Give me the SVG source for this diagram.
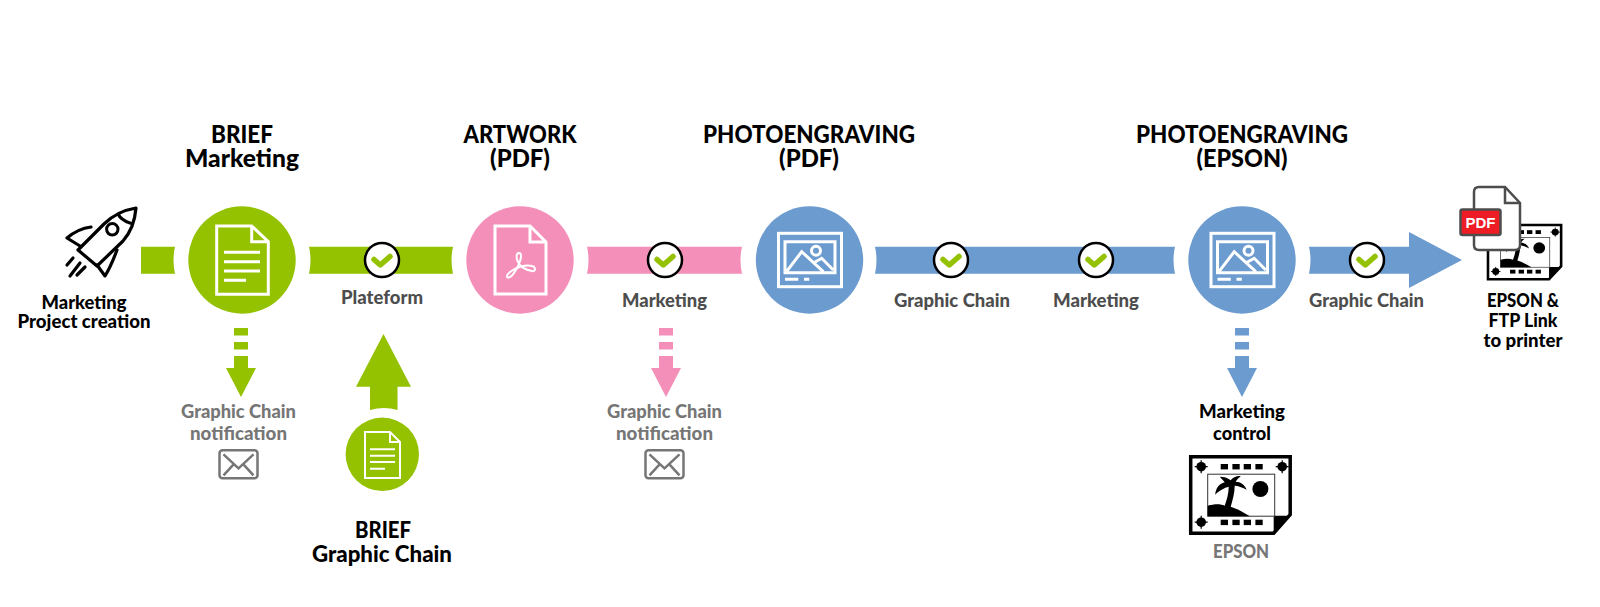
<svg xmlns="http://www.w3.org/2000/svg" width="1600" height="607" viewBox="0 0 1600 607">
<style>
text{font-family:"Lato","Open Sans","Liberation Sans",sans-serif;font-weight:900;text-anchor:middle}
.t{font-size:24px;fill:#000}
.l{font-size:18px;fill:#000}
.d{font-size:18px;fill:#4d4d4d}
.g{font-size:18px;fill:#767676}
.w{fill:none;stroke:#fff;stroke-width:3}
.gr{fill:#94c100}.pk{fill:#f48fb9}.bl{fill:#6b9bcf}
.r{fill:none;stroke:#000;stroke-width:3.200;stroke-linejoin:round;stroke-linecap:round}
</style>
<defs>
<g id="check"><circle r="17" fill="#fff" stroke="#000" stroke-width="2.500"/><path d="M-8 -0.500L-1.700 5L8 -3.500" fill="none" stroke="#94c100" stroke-width="5.500" stroke-linecap="round" stroke-linejoin="round"/></g>
<g id="doc"><path class="w" d="M-25.300-34H9.700L26.300-18.300V34.300H-25.300ZM9.700-34V-18.300H26.300"/><path class="w" d="M-18-7.700H18M-18 1.700H18M-18 11H18M-18 20.300H4"/></g>
<g id="pic"><rect x="-31" y="-26.700" width="63" height="53.400" class="w"/><path class="w" d="M-24.500-18.300H25.500V12.700H-24.500ZM-23 11.700L-7.800-8.300L13.800 11.700M3.800 3L12.200-1.700L23.800 10"/><circle cx="6.500" cy="-9.300" r="4.500" class="w"/><path class="w" d="M-24.500 19.300H-11.200M-5.500 19.300H-0.200"/></g>
<g id="env"><rect x="-19" y="-14" width="38" height="28" rx="3" fill="#fff" stroke="#767676" stroke-width="2.500"/><path d="M-15-10L0 4L15-10M-15 11L-4-1M15 11L4-1" fill="none" stroke="#767676" stroke-width="2.500"/></g>
<g id="downarrow"><rect x="-7" y="328" width="14" height="7.500"/><rect x="-7" y="342" width="14" height="7.500"/><path d="M-7 356H7V368H15L0 397L-15 368H-7Z"/></g>
<g id="epson"><path d="M0 0H99.500V58L83 76.500H0Z" fill="#fff" stroke="#000" stroke-width="3.500"/><path d="M83 76.500V59H99.500Z" fill="#000"/><rect x="17" y="17.500" width="67" height="42" fill="#fff" stroke="#333" stroke-width="1"/><circle cx="69.700" cy="32.300" r="8"/><path d="M17 59.500V49C24 47 30 47 34 49C36 43 38 37 38 30C34 31 28 34 24.500 38C25 32 28 27 34 25.500C32 23 30 21 29 20C33 20 37 21 40 23.500C42 21 46 19 50 19.500C48 21 46 23 45 25C50 25 54 28 56 33C52 31 47 29 44 29C44 36 42 43 40 50C46 52 52 55 59 59.500Z"/><g id="marks"><rect x="30" y="7.300" width="7.300" height="5.400"/><rect x="41.700" y="7.300" width="7.300" height="5.400"/><rect x="53" y="7.300" width="7.300" height="5.400"/><rect x="64.700" y="7.300" width="7.300" height="5.400"/></g><use href="#marks" y="55.700"/><circle cx="10.500" cy="10" r="4.800"/><circle cx="91.500" cy="10" r="4.800"/><circle cx="10.500" cy="65.500" r="4.800"/><path d="M10.500 3.500V16.500M4 10H17M91.500 3.500V16.500M85 10H98M10.500 59V72M4 65.500H17" stroke="#000" stroke-width="1.200"/></g>
</defs>

<g id="connectors">
<path class="gr" d="M141 246.700H175Q172 260 175 273.700H141Z"/>
<path class="gr" d="M309 246.700H453Q450 260 453 273.700H309Q312 260 309 246.700Z"/>
<path class="pk" d="M587 246.700H742Q739 260 742 273.700H587Q590 260 587 246.700Z"/>
<path class="bl" d="M875 246.700H1175Q1172 260 1175 273.700H875Q878 260 875 246.700Z"/>
<path class="bl" d="M1309 246.700H1409V232L1462 260L1409 288V273.700H1309Q1312 260 1309 246.700Z"/>
<use href="#check" x="382" y="260"/>
<use href="#check" x="665" y="260"/>
<use href="#check" x="951" y="260"/>
<use href="#check" x="1096" y="260"/>
<use href="#check" x="1367" y="260"/>
<use href="#downarrow" class="gr" x="241"/>
<use href="#downarrow" class="pk" x="666"/>
<use href="#downarrow" class="bl" x="1242"/>
<path class="gr" d="M383.500 334L411 386.700H397.500V410Q384 406 370 410V386.700H356Z"/>
</g>

<g id="node-rocket">
<path class="r" d="M136 208C124 210 112 216 104 224L78 250L97 266L123 241C131 232 135 220 136 208ZM118 214C120 218 124 221 130 223"/>
<path class="r" d="M91 227C83 228 74 232 67 238L80 246M117 250C114 258 110 268 105 276L97 265"/>
<circle cx="112.300" cy="229.300" r="5.700" fill="none" stroke="#000" stroke-width="3"/>
<path class="r" d="M67 265L73 258M70 276L80 263M77 275L85 267"/>
<text class="l" x="84" y="309" textLength="85" lengthAdjust="spacingAndGlyphs">Marketing</text>
<text class="l" x="84" y="328" textLength="133" lengthAdjust="spacingAndGlyphs">Project creation</text>
</g>
<g id="node-brief-marketing">
<text class="t" x="242" y="143" textLength="62" lengthAdjust="spacingAndGlyphs">BRIEF</text>
<text class="t" x="242" y="167" textLength="114" lengthAdjust="spacingAndGlyphs">Marketing</text>
<circle class="gr" cx="242" cy="260" r="53.700"/>
<use href="#doc" x="242" y="260"/>
</g>
<g id="node-artwork">
<text class="t" x="520" y="143" textLength="113" lengthAdjust="spacingAndGlyphs">ARTWORK</text>
<text class="t" x="520" y="167" textLength="60" lengthAdjust="spacingAndGlyphs">(PDF)</text>
<circle class="pk" cx="520" cy="260" r="53.700"/>
<path class="w" d="M495 226H530L546 242V294H495ZM530 226V242H546"/>
<path class="w" style="stroke-width:2" d="M519 253C516 253 516 258 518 262C521 268 526 270 532 271C536 272 536 267 532 266C525 264 515 268 510 272C505 276 507 279 510 277C514 275 521 262 521 256C521 254 520 253 519 253Z"/>
</g>
<g id="node-photoengraving-pdf">
<text class="t" x="809" y="143" textLength="212" lengthAdjust="spacingAndGlyphs">PHOTOENGRAVING</text>
<text class="t" x="809" y="167" textLength="60" lengthAdjust="spacingAndGlyphs">(PDF)</text>
<circle class="bl" cx="809.500" cy="260" r="53.700"/>
<use href="#pic" x="809.500" y="260"/>
</g>
<g id="node-photoengraving-epson">
<text class="t" x="1242" y="143" textLength="212" lengthAdjust="spacingAndGlyphs">PHOTOENGRAVING</text>
<text class="t" x="1242" y="167" textLength="91" lengthAdjust="spacingAndGlyphs">(EPSON)</text>
<circle class="bl" cx="1242" cy="260" r="53.700"/>
<use href="#pic" x="1242" y="260"/>
</g>
<g id="node-brief-graphic">
<circle class="gr" cx="382.300" cy="454.300" r="36.700"/>
<path class="w" style="stroke-width:2" d="M365 432H390L400 442V478H365ZM390 432V442H400"/>
<path class="w" style="stroke-width:2" d="M370 449.300H395M370 455.700H395M370 462H395M370 468.700H385"/>
<text class="t" style="font-size:22px" x="383" y="538" textLength="56" lengthAdjust="spacingAndGlyphs">BRIEF</text>
<text class="t" style="font-size:22px" x="382" y="562" textLength="140" lengthAdjust="spacingAndGlyphs">Graphic Chain</text>
</g>
<g id="labels">
<text class="d" x="382" y="304" textLength="82" lengthAdjust="spacingAndGlyphs">Plateform</text>
<text class="d" x="664.500" y="306.500" textLength="85" lengthAdjust="spacingAndGlyphs">Marketing</text>
<text class="d" x="952" y="306.500" textLength="116" lengthAdjust="spacingAndGlyphs">Graphic Chain</text>
<text class="d" x="1096" y="306.500" textLength="86" lengthAdjust="spacingAndGlyphs">Marketing</text>
<text class="d" x="1366.500" y="306.500" textLength="115" lengthAdjust="spacingAndGlyphs">Graphic Chain</text>
</g>
<g id="node-notify-1">
<text class="g" x="238.500" y="418" textLength="115" lengthAdjust="spacingAndGlyphs">Graphic Chain</text>
<text class="g" x="238.500" y="440" textLength="97" lengthAdjust="spacingAndGlyphs">notification</text>
<use href="#env" x="238.500" y="464.300"/>
</g>
<g id="node-notify-2">
<text class="g" x="664.500" y="418" textLength="115" lengthAdjust="spacingAndGlyphs">Graphic Chain</text>
<text class="g" x="664.500" y="440" textLength="97" lengthAdjust="spacingAndGlyphs">notification</text>
<use href="#env" x="664.500" y="464.300"/>
</g>
<g id="node-control">
<text class="l" x="1242" y="418" textLength="86" lengthAdjust="spacingAndGlyphs">Marketing</text>
<text class="l" x="1242" y="440" textLength="58" lengthAdjust="spacingAndGlyphs">control</text>
<use href="#epson" x="1190.700" y="456.700"/>
<text class="g" x="1241" y="558" textLength="56" lengthAdjust="spacingAndGlyphs">EPSON</text>
</g>
<g id="node-printer">
<use href="#epson" transform="translate(1488 225) scale(.735 .71)"/>
<path d="M1474 192Q1474 187 1479 187H1505L1520 203V245Q1520 250 1515 250H1479Q1474 250 1474 245Z" fill="#fff" stroke="#4d4d4d" stroke-width="2.500"/>
<path d="M1505 187V203H1520" fill="none" stroke="#4d4d4d" stroke-width="2.500"/>
<rect x="1460.500" y="209.500" width="40" height="25.500" rx="2" fill="#ee1c25" stroke="#4d4d4d" stroke-width="2.500"/>
<text x="1480.500" y="228" style="font-size:15px;fill:#fff;font-family:'Liberation Sans',sans-serif;font-weight:700">PDF</text>
<text class="l" x="1523" y="306.700" textLength="72" lengthAdjust="spacingAndGlyphs">EPSON &amp;</text>
<text class="l" x="1523" y="326.700" textLength="69" lengthAdjust="spacingAndGlyphs">FTP Link</text>
<text class="l" x="1523" y="347" textLength="79" lengthAdjust="spacingAndGlyphs">to printer</text>
</g>
</svg>
